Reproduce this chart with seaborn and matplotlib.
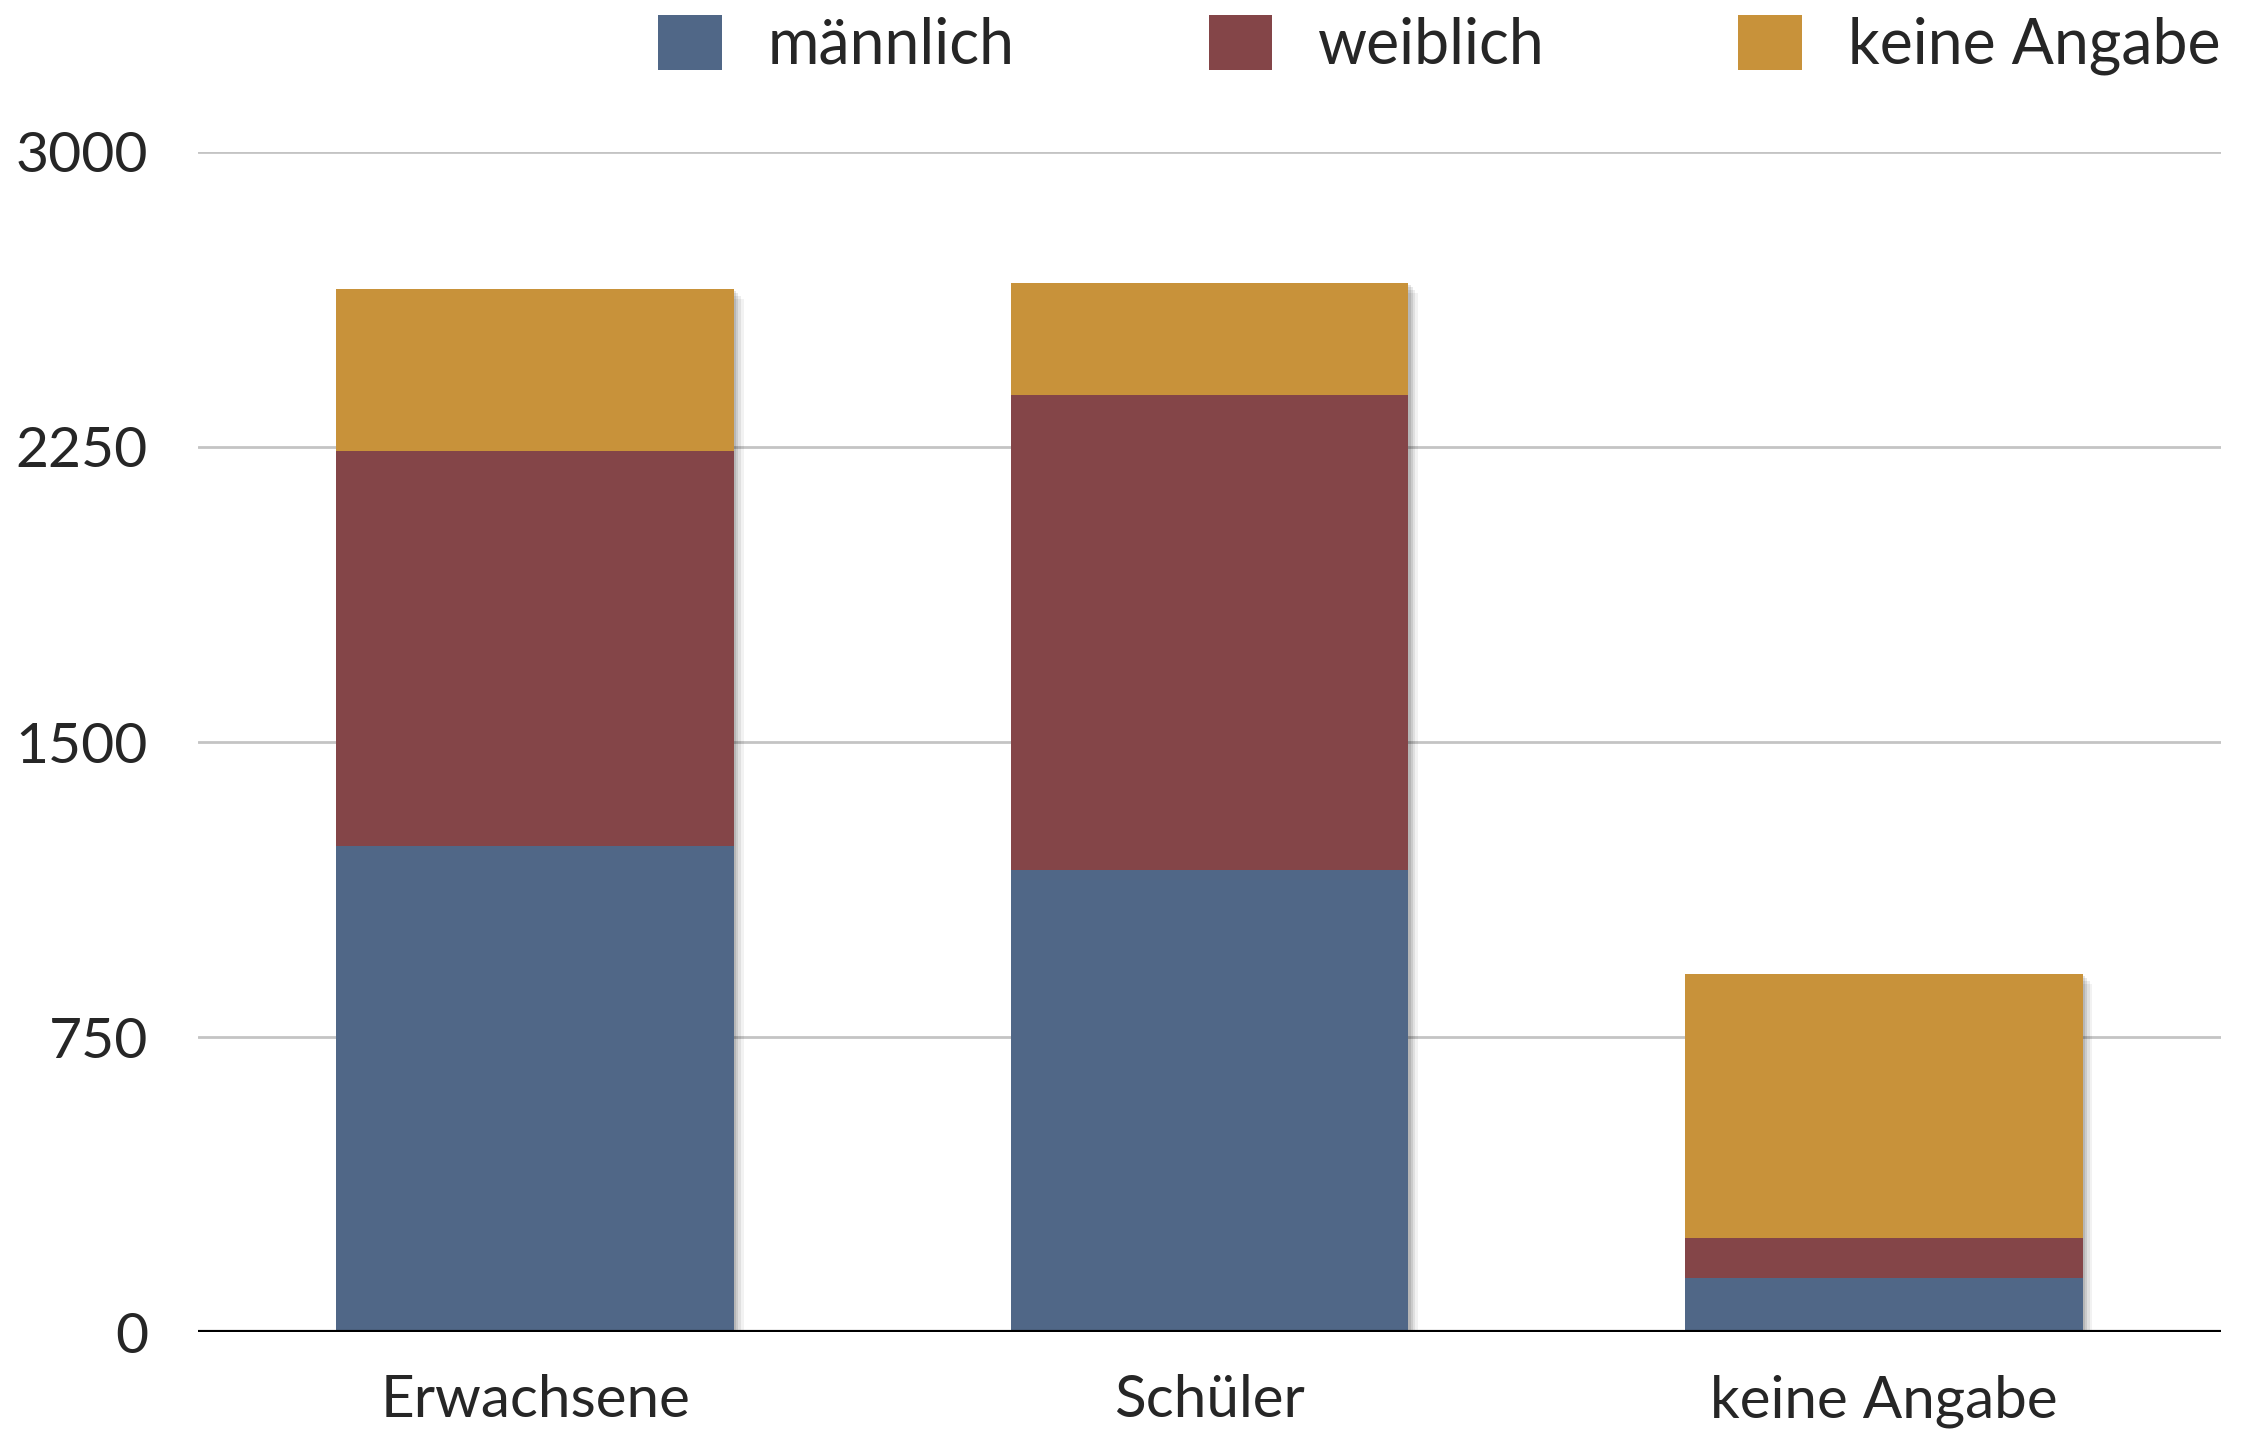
import matplotlib
matplotlib.use("Agg")
import matplotlib.pyplot as plt
import matplotlib.patheffects as pe
from matplotlib.patches import Patch
import seaborn as sns
import pandas as pd

# Data
categories = ["Erwachsene", "Schüler", "keine Angabe"]
maennlich = [1237, 1175, 138]
weiblich = [1003, 1207, 102]
keine_angabe = [411, 284, 671]
series_labels = ["männlich", "weiblich", "keine Angabe"]
yticks = [0, 750, 1500, 2250, 3000]

# Colours
BLUE = "#506787"
RED = "#844548"
ORANGE = "#C8923A"

sns.set_style("white")
plt.rcParams["font.family"] = ["Lato", "DejaVu Sans"]

# Build cumulative totals for stacking (draw tallest first)
df = pd.DataFrame({
    "kategorie": categories,
    "m": maennlich,
    "w": weiblich,
    "k": keine_angabe,
})
df["mw"] = df["m"] + df["w"]
df["mwk"] = df["mw"] + df["k"]

fig = plt.figure(figsize=(22.45, 14.39), dpi=100)
ax = fig.add_axes([0.0882, 0.0741, 0.9011, 0.8205])

for col, color in [("mwk", ORANGE), ("mw", RED), ("m", BLUE)]:
    sns.barplot(data=df, x="kategorie", y=col, color=color, width=0.59,
                saturation=1, ax=ax, zorder=2)

# soft drop shadow only on the full-height (outer) bars
soft_shadow = [pe.SimplePatchShadow(offset=(d, -d), shadow_rgbFace="black", alpha=a)
               for d, a in [(7, 0.05), (5, 0.07), (3, 0.09), (1.5, 0.1)]]
soft_shadow.append(pe.Normal())
for i, p in enumerate(ax.patches):
    p.set_linewidth(0)
    if i < len(categories):
        p.set_path_effects(soft_shadow)

ax.set_ylim(0, 3000)
ax.set_xlim(-0.5, 2.5)
ax.set_yticks(yticks)
ax.set_yticklabels([str(t) for t in yticks])
ax.set_xlabel("")
ax.set_ylabel("")

ax.yaxis.grid(True, color="#c4c4c4", linewidth=2, zorder=0)
ax.set_axisbelow(True)
ax.axhline(0, color="black", linewidth=3, zorder=5)

for s in ax.spines.values():
    s.set_visible(False)

ax.tick_params(axis="y", labelsize=41, length=0, pad=36)
ax.tick_params(axis="x", labelsize=42, length=0, pad=30)

handles = [Patch(facecolor=c, edgecolor="none") for c in (BLUE, RED, ORANGE)]
fig.legend(handles, series_labels, loc="center right",
           bbox_to_anchor=(0.989, 1 - 45 / 1439), ncol=3, frameon=False,
           fontsize=45, handlelength=1.02, handleheight=0.99,
           handletextpad=0.73, columnspacing=3.1, borderpad=0, borderaxespad=0)

fig.savefig("out.png", dpi=100)
